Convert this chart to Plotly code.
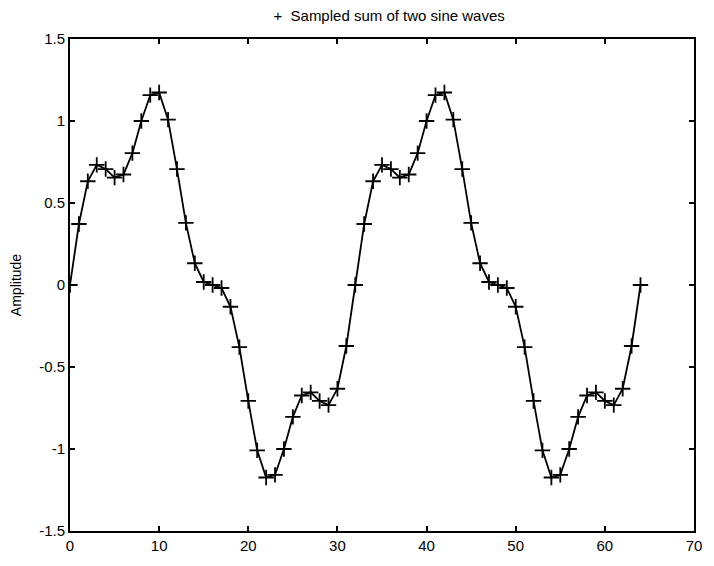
import plotly.graph_objects as go

n = list(range(65))
amplitude = [
    0.0, 0.3719, 0.6327, 0.7324, 0.7071, 0.6547, 0.6739, 0.8040,
    1.0, 1.1576, 1.1739, 1.0083, 0.7071, 0.3788, 0.1327, 0.0183,
    0.0, -0.0183, -0.1327, -0.3788, -0.7071, -1.0083, -1.1739, -1.1576,
    -1.0, -0.8040, -0.6739, -0.6547, -0.7071, -0.7324, -0.6327, -0.3719,
    0.0, 0.3719, 0.6327, 0.7324, 0.7071, 0.6547, 0.6739, 0.8040,
    1.0, 1.1576, 1.1739, 1.0083, 0.7071, 0.3788, 0.1327, 0.0183,
    0.0, -0.0183, -0.1327, -0.3788, -0.7071, -1.0083, -1.1739, -1.1576,
    -1.0, -0.8040, -0.6739, -0.6547, -0.7071, -0.7324, -0.6327, -0.3719,
    0.0,
]
x_ticks = [0, 10, 20, 30, 40, 50, 60, 70]
y_ticks = [-1.5, -1, -0.5, 0, 0.5, 1, 1.5]
y_tick_text = ["-1.5", "-1", "-0.5", "0", "0.5", "1", "1.5"]

FONT = "Liberation Sans, Arial, sans-serif"

fig = go.Figure()
fig.add_trace(go.Scatter(
    x=n, y=amplitude, mode="lines+markers",
    line=dict(color="black", width=1.8),
    marker=dict(symbol="cross-thin", size=11, line=dict(color="black", width=1.8), color="black"),
    showlegend=False,
))

axis_common = dict(
    showgrid=False, zeroline=False, showline=True, linecolor="black", linewidth=2,
    mirror="ticks", ticks="inside", ticklen=5, tickwidth=1.5, tickcolor="black",
    tickfont=dict(family=FONT, size=15, color="black"),
)
fig.update_xaxes(range=[0, 70], tickvals=x_ticks, **axis_common)
fig.update_yaxes(range=[-1.5, 1.5], tickvals=y_ticks, ticktext=y_tick_text,
                 title=dict(text="Amplitude", font=dict(family=FONT, size=14, color="black"), standoff=14),
                 **axis_common)

fig.update_layout(
    width=714, height=566,
    margin=dict(l=70, r=13, t=39, b=32),
    paper_bgcolor="white", plot_bgcolor="white",
    title=dict(text="+  Sampled sum of two sine waves", x=0.545, xanchor="center", y=0.973, yanchor="middle",
               font=dict(family=FONT, size=15, color="black")),
)

fig.write_html("out.html")
